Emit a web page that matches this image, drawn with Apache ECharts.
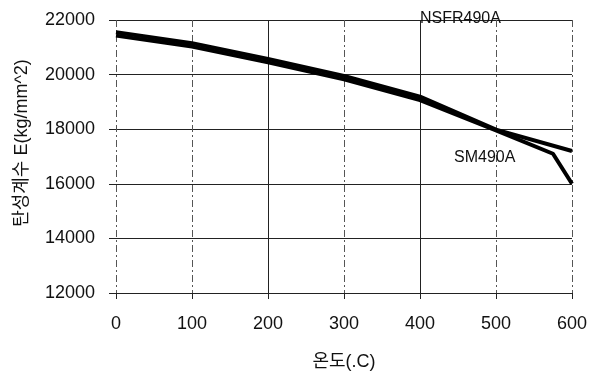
<!DOCTYPE html>
<html>
<head>
<meta charset="utf-8">
<script src="https://cdn.jsdelivr.net/npm/echarts@6/dist/echarts.min.js"></script>
<style>html,body{margin:0;padding:0;background:#fff}#c{width:590px;height:376px}</style>
</head>
<body>
<div id="c"></div>
<script>
var xTicks = [0, 100, 200, 300, 400, 500, 600];
var yTicks = [12000, 14000, 16000, 18000, 20000, 22000];
var nsfrTemps = [0, 100, 200, 300, 400, 500, 600];
var nsfrValues = [21552, 21152, 20571, 19953, 19192, 17985, 17200];
var smTemps = [0, 100, 200, 300, 400, 500, 575, 600];
var smValues = [21428, 21028, 20447, 19829, 19068, 17960, 17100, 16000];
var solidGridX = [200, 400];
var seriesNames = ['NSFR490A', 'SM490A'];
var xName = '온도(.C)';
var yName = '탄성계수 E(kg/mm^2)';

var FONT = "'Liberation Sans', Arial, 'Noto Sans CJK KR', sans-serif";
function pairs(xs, ys) { return xs.map(function (x, i) { return [x, ys[i]]; }); }

var chart = echarts.init(document.getElementById('c'), null, { renderer: 'canvas' });
chart.setOption({
  animation: false,
  backgroundColor: '#fff',
  grid: { left: 116, right: 18, top: 20, bottom: 81 },
  xAxis: {
    type: 'value', min: xTicks[0], max: xTicks[xTicks.length - 1], interval: 100,
    name: xName, nameLocation: 'middle', nameGap: 60,
    nameTextStyle: { fontFamily: FONT, fontSize: 18, color: '#111' },
    axisLine: { show: false },
    axisTick: { show: true, length: 6, lineStyle: { color: '#222' } },
    axisLabel: { margin: 22, fontFamily: FONT, fontSize: 18, color: '#111',
      formatter: function (v) { return String(v); } },
    splitLine: { show: true, lineStyle: { color: '#555', width: 1, type: [7, 3, 2, 3] } }
  },
  yAxis: {
    type: 'value', min: yTicks[0], max: yTicks[yTicks.length - 1], interval: 2000,
    axisLine: { show: false },
    axisTick: { show: true, length: 7, lineStyle: { color: '#222' } },
    axisLabel: { margin: 21, fontFamily: FONT, fontSize: 18, color: '#111',
      formatter: function (v) { return String(v); } },
    splitLine: { show: true, lineStyle: { color: '#222', width: 1 } }
  },
  graphic: [
    { type: 'text', left: 420, top: 11, z: 100, style: { text: seriesNames[0], font: '16px ' + FONT, fill: '#111' } },
    { type: 'text', left: 454, top: 150, z: 100, style: { text: seriesNames[1], font: '16px ' + FONT, fill: '#111' } },
    { type: 'text', x: 22, y: 143, rotation: Math.PI / 2, z: 100,
      style: { text: yName, font: '18px ' + FONT, fill: '#111', align: 'center', verticalAlign: 'middle' } }
  ],
  series: [
    {
      name: 'grid', type: 'line', data: [], silent: true,
      markLine: { silent: true, symbol: 'none', label: { show: false },
        lineStyle: { color: '#222', width: 1, type: 'solid' },
        data: solidGridX.map(function (v) { return { xAxis: v }; }) }
    },
    { name: seriesNames[0], type: 'line', data: pairs(nsfrTemps, nsfrValues), showSymbol: false,
      lineStyle: { color: '#000', width: 4 }, z: 5 },
    { name: seriesNames[1], type: 'line', data: pairs(smTemps, smValues), showSymbol: false,
      lineStyle: { color: '#000', width: 4 }, z: 5 }
  ]
});
</script>
</body>
</html>
